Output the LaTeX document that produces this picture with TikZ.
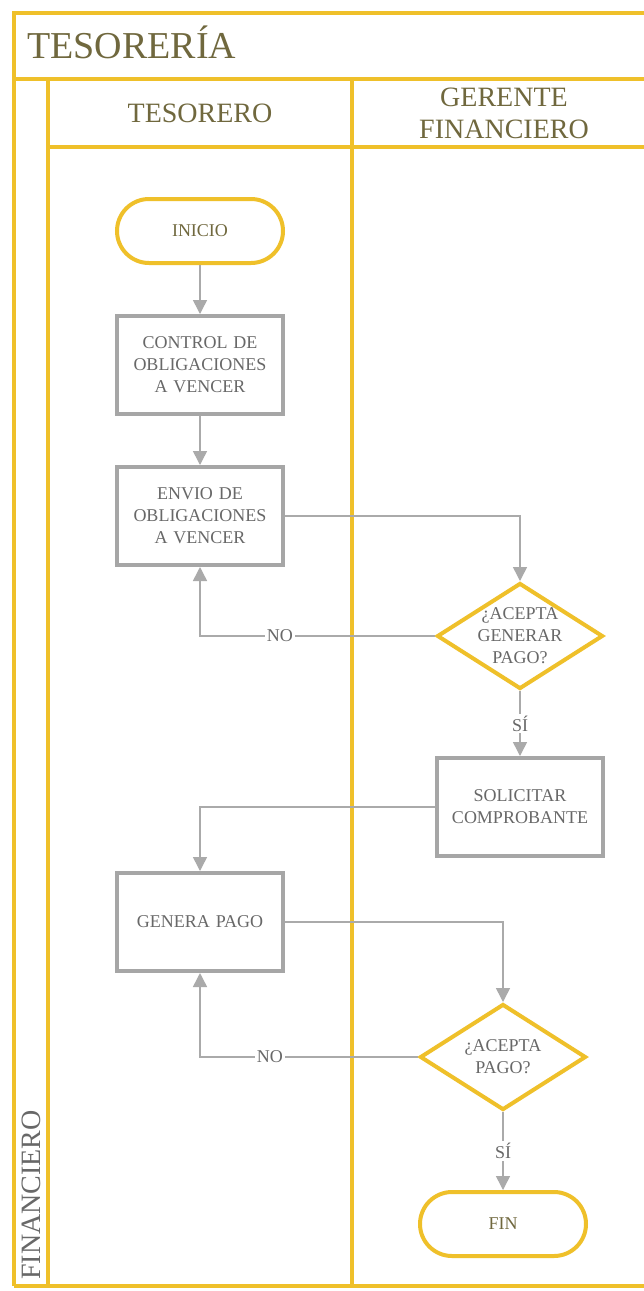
\documentclass[tikz,border=0pt]{standalone}
\usepackage{fontspec}
\setmainfont{Liberation Serif}
\usepackage{xcolor}
\usepackage{tikz}
\usetikzlibrary{shapes.geometric, arrows.meta, positioning}

\definecolor{laneyellow}{RGB}{239,192,42}
\definecolor{boxgray}{RGB}{166,166,166}
\definecolor{linegray}{RGB}{170,170,170}
\definecolor{headtext}{RGB}{112,104,62}
\definecolor{boxtext}{RGB}{104,104,104}

\begin{document}
\begin{tikzpicture}[
			x=1pt, y=-1pt,
			node distance = 49pt,
			lane/.style = {draw=laneyellow, line width=4pt},
			lanetitle/.style = {text=headtext, font=\fontsize{28}{32}\selectfont, align=center},
			terminal/.style = {rectangle, draw=laneyellow, line width=4pt, rounded corners=32pt,
					minimum width=166pt, minimum height=64pt, text=headtext,
					font=\fontsize{18}{21}\selectfont},
			process/.style = {rectangle, draw=boxgray, line width=4pt, fill=white,
					minimum width=166pt, minimum height=98pt, text width=150pt, text centered,
					text=boxtext, font=\fontsize{18}{22}\selectfont},
			decision/.style = {diamond, draw=laneyellow, line width=4pt, fill=white,
					minimum width=166pt, minimum height=106pt, inner sep=0pt},
			decisiontext/.style = {align=center, text=boxtext, inner sep=0pt,
					font=\fontsize{18}{22}\selectfont},
			answer/.style = {fill=white, text=boxtext, inner sep=2pt,
					font=\fontsize{18}{22}\selectfont},
			line/.style = {draw=linegray, line width=1.5pt,
					-{Triangle[width=14pt, length=14pt]}},
		]
		\useasboundingbox (0,0) rectangle (644,1291);
		\clip (0,0) rectangle (644,1291);
		\fill[white] (0,0) rectangle (644,1291);

		% Pool frame and lanes
		\draw[lane] (14,1286) -- (14,13) -- (700,13);
		\draw[lane] (14,1286) -- (700,1286);
		\draw[lane] (14,79) -- (700,79);
		\draw[lane] (48,147) -- (700,147);
		\draw[lane] (48,79) -- (48,1286);
		\draw[lane] (352,79) -- (352,1286);

		% Pool and lane titles
		\node[anchor=base west, text=headtext, font=\fontsize{38}{40}\selectfont, inner sep=0pt]
			(pool) at (27,58) {TESORERÍA};
		\node[lanetitle] (tesorero) at (200,113) {TESORERO};
		\node[lanetitle] (gerente) at (504,113) {GERENTE\\FINANCIERO};
		\node[rotate=90, anchor=east, text=boxtext, font=\fontsize{28}{32}\selectfont, inner sep=0pt]
			(area) at (31,1110) {FINANCIERO};

		% Tesorero lane
		\node[terminal] (inicio) at (200,231) {INICIO};
		\node[process, below=of inicio] (control) {CONTROL DE\\OBLIGACIONES\\A VENCER};
		\node[process, below=of control] (envio) {ENVIO DE\\OBLIGACIONES\\A VENCER};
		\node[process] (genera) at (200,922) {GENERA PAGO};

		% Gerente financiero lane
		\node[decision] (aceptagen) at (520,636) {};
		\node[decisiontext] (aceptagentxt) at (aceptagen) {¿ACEPTA\\GENERAR\\PAGO?};
		\node[process] (solicitar) at (520,807) {SOLICITAR\\COMPROBANTE};
		\node[decision] (aceptapago) at (503,1057) {};
		\node[decisiontext] (aceptapagotxt) at (aceptapago) {¿ACEPTA\\PAGO?};
		\node[terminal] (fin) at (503,1224) {FIN};

		% Draw arrows
		\path [line] (inicio) -- (control);
		\path [line] (control) -- (envio);
		\path [line] (envio.east) -| (aceptagen.north);
		\path [line] (aceptagen.west) -| node[answer, pos=0.33] {NO} (envio.south);
		\path [line] (aceptagen.south) -- node[answer] {SÍ} (solicitar.north);
		\path [line] (solicitar.west) -| (genera.north);
		\path [line] (genera.east) -| (aceptapago.north);
		\path [line] (aceptapago.west) -| node[answer, pos=0.34] {NO} (genera.south);
		\path [line] (aceptapago.south) -- node[answer] {SÍ} (fin.north);
	\end{tikzpicture}
\end{document}
